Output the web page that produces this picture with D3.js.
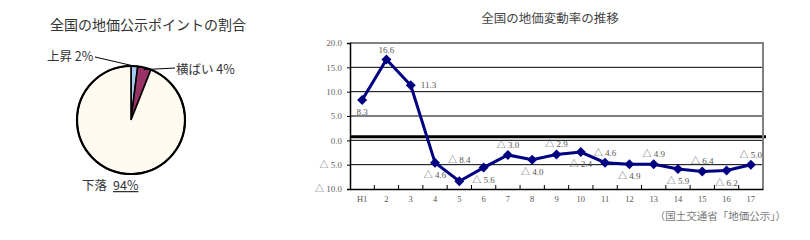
<!DOCTYPE html>
<html><head><meta charset="utf-8">
<script src="https://cdn.jsdelivr.net/npm/d3@7"></script>
<style>body{margin:0;background:#fff}svg{display:block}</style>
</head><body>
<svg id="c" width="810" height="240"></svg>
<script>
// ---- data ----
const pieLabels = ["上昇", "横ばい", "下落"];
const pieValues = [2, 4, 94];
const years = ["H1","2","3","4","5","6","7","8","9","10","11","12","13","14","15","16","17"];
const rates = [8.3, 16.6, 11.3, -4.6, -8.4, -5.6, -3.0, -4.0, -2.9, -2.4, -4.6, -4.9, -4.9, -5.9, -6.4, -6.2, -5.0];
const labelSide = ["below","above","right","below","high","below","above","below","above","below","above","below","above","below","above","below","above"];
const yTicks = [20, 15, 10, 5, 0, -5, -10];

const svg = d3.select("#c");
const gothic = "'Noto Sans CJK JP','Noto Sans',sans-serif";
const mincho = "'Liberation Serif','Noto Sans CJK JP',serif";
const fmt = v => v < 0 ? "△ " + Math.abs(v).toFixed(1) : v.toFixed(1);

// ---- pie ----
svg.append("text").attr("x", 148).attr("y", 30).attr("text-anchor", "middle")
  .attr("font-family", gothic).attr("font-size", 14).attr("fill", "#333")
  .text("全国の地価公示ポイントの割合");
const pieColors = ["#a6caf0", "#993366", "#fffbf0"];
const pie = d3.pie().sort(null).value(d => d)(pieValues);
const arc = d3.arc().innerRadius(0).outerRadius(54);
const pg = svg.append("g").attr("transform", "translate(131,120)");
pg.selectAll("path").data(pie).join("path").attr("d", arc)
  .attr("fill", (d, i) => pieColors[i]).attr("stroke", "#000").attr("stroke-width", 1.6);
pg.append("circle").attr("r", 54).attr("fill", "none").attr("stroke", "#000").attr("stroke-width", 2.2);
// labels
const lab = svg.append("g").attr("font-family", gothic).attr("font-size", 12.5).attr("fill", "#333");
lab.append("text").attr("x", 47).attr("y", 61).text(pieLabels[0] + " " + pieValues[0] + "%");
lab.append("text").attr("x", 176).attr("y", 74).text(pieLabels[1] + " " + pieValues[1] + "%");
lab.append("text").attr("x", 82).attr("y", 190).text(pieLabels[2] + " ");
lab.append("text").attr("x", 113).attr("y", 190).attr("text-decoration", "underline").text(pieValues[2] + "%");
const a0 = (pie[0].startAngle + pie[0].endAngle) / 2, a1 = (pie[1].startAngle + pie[1].endAngle) / 2;
svg.append("line").attr("x1", 95).attr("y1", 57).attr("x2", 131 + 54 * Math.sin(a0)).attr("y2", 120 - 54 * Math.cos(a0))
  .attr("stroke", "#000").attr("stroke-width", 1);
svg.append("line").attr("x1", 175).attr("y1", 68).attr("x2", 131 + 52 * Math.sin(a1)).attr("y2", 120 - 52 * Math.cos(a1))
  .attr("stroke", "#000").attr("stroke-width", 1);

// ---- line chart ----
const L = 350, R = 763, T = 43, B = 189;
const x = d3.scaleBand().domain(years).range([L, R]);
const y = d3.scaleLinear().domain([-10, 20]).range([B, T]);

svg.append("text").attr("x", 550).attr("y", 23).attr("text-anchor", "middle")
  .attr("font-family", mincho).attr("font-size", 12.5).attr("fill", "#444")
  .text("全国の地価変動率の推移");

// gridlines
svg.append("g").selectAll("line").data(yTicks.filter(v => v < 20 && v > -10)).join("line")
  .attr("x1", L).attr("x2", R).attr("y1", d => y(d)).attr("y2", d => y(d))
  .attr("stroke", "#000").attr("stroke-width", 1);
// thick zero band
svg.append("line").attr("x1", L).attr("x2", R + 3).attr("y1", y(0) - 3.5).attr("y2", y(0) - 3.5)
  .attr("stroke", "#000").attr("stroke-width", 3);
// frame
svg.append("line").attr("x1", L).attr("x2", R + 1).attr("y1", T).attr("y2", T).attr("stroke", "#808080").attr("stroke-width", 2);
svg.append("line").attr("x1", R).attr("x2", R).attr("y1", T).attr("y2", B).attr("stroke", "#808080").attr("stroke-width", 2);

// y axis
const ya = svg.append("g").attr("transform", `translate(${L},0)`)
  .call(d3.axisLeft(y).tickValues(yTicks).tickSize(3).tickFormat(fmt));
ya.select(".domain").attr("stroke", "#000").attr("stroke-width", 1.5);
ya.selectAll("text").attr("font-family", mincho).attr("font-size", 9).attr("fill", "#666").attr("dx", -2);

// x axis
const xa = svg.append("g").attr("transform", `translate(0,${B})`)
  .call(d3.axisBottom(x).tickSize(0));
xa.select(".domain").attr("stroke", "#000").attr("stroke-width", 1.5);
xa.selectAll("text").attr("font-family", mincho).attr("font-size", 8.5).attr("fill", "#555").attr("dy", 10);
svg.append("g").selectAll("line").data(years.slice(1)).join("line")
  .attr("x1", d => x(d)).attr("x2", d => x(d)).attr("y1", B).attr("y2", B - 4)
  .attr("stroke", "#000").attr("stroke-width", 1);

// line
const cx = d => x(d) + x.bandwidth() / 2;
svg.append("path").datum(rates)
  .attr("d", d3.line().x((d, i) => cx(years[i])).y(d => y(d)))
  .attr("fill", "none").attr("stroke", "#000080").attr("stroke-width", 3);
svg.append("g").selectAll("path").data(rates).join("path")
  .attr("d", d3.symbol(d3.symbolDiamond2, 64))
  .attr("transform", (d, i) => `translate(${cx(years[i])},${y(d)})`)
  .attr("fill", "#000080");

// value labels
const off = {
  below: [0, 15, "middle"], above: [0, -7, "middle"], right: [10, 3, "start"], high: [0, -18, "middle"]
};
svg.append("g").selectAll("text").data(rates).join("text")
  .attr("x", (d, i) => cx(years[i]) + off[labelSide[i]][0])
  .attr("y", (d, i) => y(d) + off[labelSide[i]][1])
  .attr("text-anchor", (d, i) => off[labelSide[i]][2])
  .attr("font-family", mincho).attr("font-size", 9).attr("fill", "#555")
  .text(d => fmt(d));

// source
svg.append("text").attr("x", 786).attr("y", 220).attr("text-anchor", "end")
  .attr("font-family", mincho).attr("font-size", 10.5).attr("fill", "#777")
  .text("（国土交通省「地価公示」）");
</script>
</body></html>
